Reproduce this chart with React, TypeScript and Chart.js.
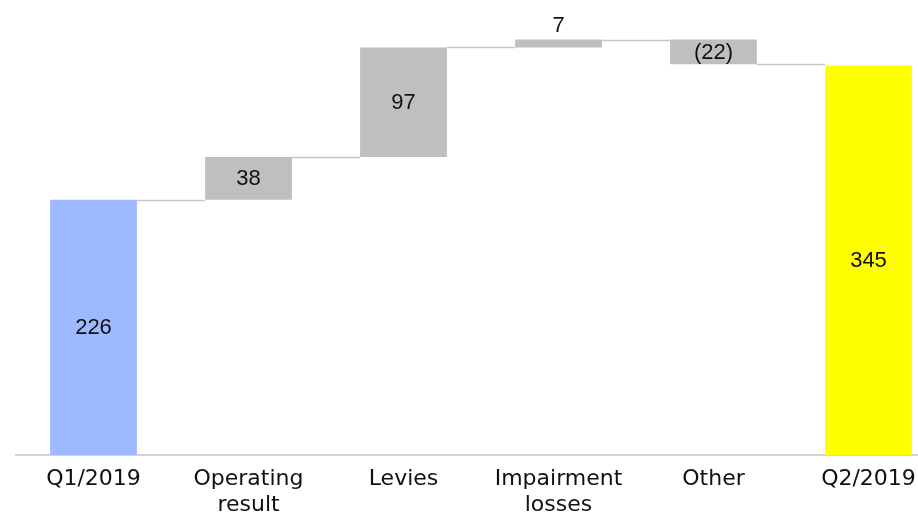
import React, { useEffect, useRef } from "react";
import { Chart, registerables } from "chart.js";

Chart.register(...registerables);

const categories: (string | string[])[] = [
  "Q1/2019",
  ["Operating", "result"],
  "Levies",
  ["Impairment", "losses"],
  "Other",
  "Q2/2019",
];
const startValue = 226;
const changes = [38, 97, 7, -22];
const endValue = 345;
const valueLabels = ["226", "38", "97", "7", "(22)", "345"];
const barColors = ["#9DB9FF", "#BFBFBF", "#BFBFBF", "#BFBFBF", "#BFBFBF", "#FFFF00"];
const labelAbove = [false, false, false, true, false, false];

function buildFloating() {
  const bars: [number, number][] = [[0, startValue]];
  const levels: number[] = [startValue];
  let run = startValue;
  for (const c of changes) {
    const next = run + c;
    bars.push([Math.min(run, next), Math.max(run, next)]);
    run = next;
    levels.push(run);
  }
  bars.push([0, endValue]);
  return { bars, levels };
}

const waterfallPlugin = {
  id: "waterfallDecor",
  afterDatasetsDraw(chart: any) {
    const ctx = chart.ctx as CanvasRenderingContext2D;
    const meta = chart.getDatasetMeta(0);
    const yScale = chart.scales.y;
    const { levels } = buildFloating();
    ctx.save();
    // connectors
    ctx.strokeStyle = "#C8C8C8";
    ctx.lineWidth = 1.5;
    for (let i = 0; i < meta.data.length - 1; i++) {
      const a = meta.data[i];
      const b = meta.data[i + 1];
      const y = Math.round(yScale.getPixelForValue(levels[i])) + 0.5;
      ctx.beginPath();
      ctx.moveTo(a.x + a.width / 2, y);
      ctx.lineTo(b.x - b.width / 2, y);
      ctx.stroke();
    }
    // labels
    ctx.fillStyle = "#111111";
    ctx.font = "22px 'Liberation Sans', Arial, sans-serif";
    ctx.textAlign = "center";
    meta.data.forEach((el: any, i: number) => {
      const top = Math.min(el.y, el.base);
      const bottom = Math.max(el.y, el.base);
      if (labelAbove[i]) {
        ctx.textBaseline = "alphabetic";
        ctx.fillText(valueLabels[i], el.x, top - 8);
      } else {
        ctx.textBaseline = "middle";
        ctx.fillText(valueLabels[i], el.x, (top + bottom) / 2 + 1);
      }
    });
    ctx.restore();
  },
};

export default function App() {
  const canvasRef = useRef<HTMLCanvasElement | null>(null);

  useEffect(() => {
    document.body.style.margin = "0";
    const canvas = canvasRef.current;
    if (!canvas) return;
    const { bars } = buildFloating();
    const chart = new Chart(canvas, {
      type: "bar",
      data: {
        labels: categories,
        datasets: [
          {
            data: bars as any,
            backgroundColor: barColors,
            borderWidth: 0,
            barPercentage: 0.56,
            categoryPercentage: 1,
          },
        ],
      },
      options: {
        animation: false,
        responsive: false,
        maintainAspectRatio: false,
        layout: { padding: { left: 16, right: 0, top: 0, bottom: 0 } },
        plugins: {
          legend: { display: false },
          tooltip: { enabled: false },
        },
        scales: {
          x: {
            grid: { display: false },
            border: { display: true, color: "#D3D3D3", width: 2 },
            ticks: {
              color: "#111111",
              font: { family: "'DejaVu Sans', sans-serif", size: 22, lineHeight: 1.15 },
              padding: 4,
              maxRotation: 0,
              autoSkip: false,
            },
            afterFit(scale: any) {
              scale.height = 62;
            },
          },
          y: {
            display: false,
            min: 0,
            max: 403,
          },
        },
      },
      plugins: [waterfallPlugin],
    });
    return () => chart.destroy();
  }, []);

  return (
    <div
      style={{
        position: "fixed",
        left: 0,
        top: 0,
        width: 918,
        height: 517,
        overflow: "hidden",
        background: "#fff",
      }}
    >
      <canvas ref={canvasRef} width={946} height={517} style={{ width: 946, height: 517, display: "block" }} />
    </div>
  );
}
